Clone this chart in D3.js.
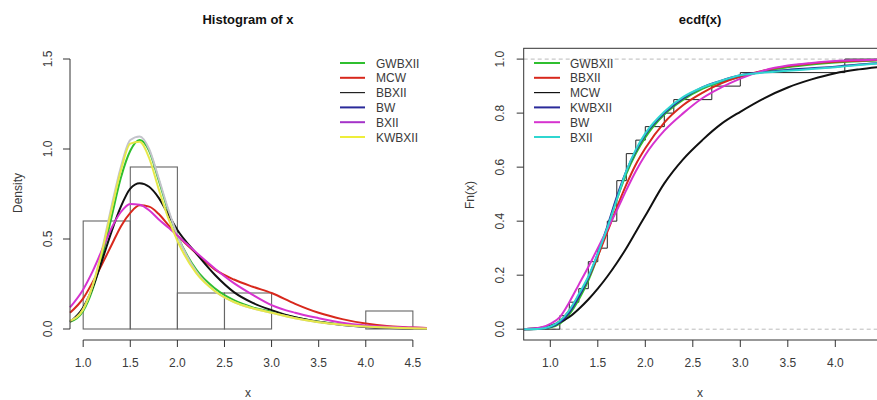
<!DOCTYPE html>
<html>
<head>
<meta charset="utf-8">
<script src="https://cdn.jsdelivr.net/npm/d3@7"></script>
<style>
	body { margin: 0; background: #fff; }
	svg { display: block; }
	text { font-family: "Liberation Sans", Arial, sans-serif; fill: #3a3a3a; }
</style>
</head>
<body>
<script>
// histogram of x (density scale)
const binEdges = [1.0, 1.5, 2.0, 2.5, 3.0, 3.5, 4.0, 4.5];
const binDensity = [0.6, 0.9, 0.2, 0.2, 0.0, 0.0, 0.1];

// fitted densities
const densX = [0.86, 1.0, 1.1, 1.2, 1.3, 1.4, 1.5, 1.6, 1.7, 1.8, 1.9, 2.0, 2.2, 2.4, 2.6, 2.8, 3.0, 3.25, 3.5, 3.75, 4.0, 4.25, 4.5, 4.65];
const densGWBXII = [0.04, 0.10, 0.22, 0.40, 0.62, 0.84, 0.99, 1.05, 0.99, 0.83, 0.66, 0.52, 0.33, 0.225, 0.16, 0.12, 0.095, 0.065, 0.04, 0.025, 0.015, 0.009, 0.005, 0.004];
const densMCW = [0.09, 0.17, 0.26, 0.36, 0.465, 0.57, 0.645, 0.687, 0.68, 0.64, 0.58, 0.52, 0.42, 0.33, 0.275, 0.235, 0.2, 0.14, 0.09, 0.055, 0.03, 0.015, 0.008, 0.005];
const densBBXII = [0.04, 0.12, 0.23, 0.38, 0.54, 0.68, 0.78, 0.81, 0.79, 0.73, 0.64, 0.55, 0.42, 0.30, 0.205, 0.145, 0.105, 0.065, 0.04, 0.022, 0.011, 0.006, 0.003, 0.002];
const densBW = [0.045, 0.11, 0.24, 0.44, 0.68, 0.90, 1.05, 1.07, 1.0, 0.84, 0.67, 0.52, 0.32, 0.21, 0.15, 0.115, 0.09, 0.06, 0.038, 0.024, 0.014, 0.008, 0.004, 0.003];
const densBXII = [0.12, 0.22, 0.32, 0.44, 0.56, 0.65, 0.695, 0.69, 0.66, 0.61, 0.565, 0.52, 0.425, 0.335, 0.255, 0.19, 0.133, 0.09, 0.06, 0.035, 0.02, 0.012, 0.008, 0.006];
const densKWBXII = [0.045, 0.11, 0.24, 0.43, 0.66, 0.88, 1.03, 1.04, 0.95, 0.78, 0.62, 0.49, 0.31, 0.21, 0.15, 0.115, 0.09, 0.06, 0.038, 0.024, 0.014, 0.008, 0.004, 0.003];

// sample behind ecdf(x)
const sample = [1.1, 1.2, 1.3, 1.4, 1.4, 1.5, 1.6, 1.6, 1.7, 1.7, 1.7, 1.8, 1.8, 1.9, 2.0, 2.2, 2.3, 2.7, 3.0, 4.1];

// fitted cdfs
const cdfX = [0.72, 0.9, 1.0, 1.1, 1.2, 1.3, 1.4, 1.5, 1.6, 1.7, 1.8, 1.9, 2.0, 2.2, 2.4, 2.6, 2.8, 3.0, 3.25, 3.5, 3.75, 4.0, 4.25, 4.5];
const cdfGWBXII = [0, 0.002, 0.006, 0.02, 0.055, 0.11, 0.18, 0.27, 0.375, 0.48, 0.575, 0.65, 0.71, 0.795, 0.85, 0.89, 0.915, 0.935, 0.955, 0.97, 0.98, 0.987, 0.992, 0.995];
const cdfBBXII = [0, 0.003, 0.01, 0.03, 0.07, 0.125, 0.19, 0.27, 0.36, 0.45, 0.535, 0.61, 0.67, 0.765, 0.83, 0.875, 0.91, 0.935, 0.958, 0.974, 0.984, 0.99, 0.994, 0.997];
const cdfMCW = [0, 0.005, 0.013, 0.025, 0.045, 0.075, 0.11, 0.15, 0.195, 0.245, 0.30, 0.36, 0.42, 0.54, 0.63, 0.70, 0.76, 0.805, 0.855, 0.895, 0.925, 0.948, 0.962, 0.972];
const cdfKWBXII = [0, 0.002, 0.008, 0.025, 0.062, 0.12, 0.19, 0.28, 0.38, 0.49, 0.585, 0.66, 0.72, 0.80, 0.855, 0.895, 0.92, 0.94, 0.952, 0.96, 0.966, 0.972, 0.98, 0.986];
const cdfBW = [0, 0.006, 0.02, 0.045, 0.10, 0.165, 0.23, 0.30, 0.37, 0.44, 0.515, 0.585, 0.645, 0.735, 0.80, 0.855, 0.895, 0.928, 0.958, 0.976, 0.986, 0.993, 0.996, 0.998];
const cdfBXII = [0, 0.002, 0.01, 0.03, 0.07, 0.13, 0.195, 0.28, 0.375, 0.48, 0.585, 0.665, 0.725, 0.805, 0.86, 0.895, 0.92, 0.94, 0.95, 0.957, 0.963, 0.97, 0.978, 0.985];

const densTicksX = [1.0, 1.5, 2.0, 2.5, 3.0, 3.5, 4.0, 4.5];
const densTicksY = [0.0, 0.5, 1.0, 1.5];
const cdfTicksX = [1.0, 1.5, 2.0, 2.5, 3.0, 3.5, 4.0];
const cdfTicksY = [0.0, 0.2, 0.4, 0.6, 0.8, 1.0];

document.addEventListener('DOMContentLoaded', () => {
	let width = 877, height = 400;
	let svg = d3.select('body').append('svg')
		.attr('width', width)
		.attr('height', height);

	let fmt = d3.format('.1f');

	// ---------- left: histogram ----------
	let xL = d3.scaleLinear().domain([0.86, 4.65]).range([70, 427]);
	let yL = d3.scaleLinear().domain([0, 1.5]).range([329, 59]);

	let left = svg.append('g');

	left.append('text')
		.attr('x', 248).attr('y', 24)
		.attr('text-anchor', 'middle')
		.style('font-weight', 'bold').style('font-size', '13px').style('fill', '#111')
		.text('Histogram of x');

	let bins = binDensity.map((d, i) => ({ x0: binEdges[i], x1: binEdges[i + 1], d: d }));
	left.selectAll('rect.bar')
		.data(bins)
		.enter().append('rect')
		.attr('class', 'bar')
		.attr('x', d => xL(d.x0))
		.attr('width', d => xL(d.x1) - xL(d.x0))
		.attr('y', d => yL(d.d))
		.attr('height', d => yL(0) - yL(d.d))
		.style('fill', 'none')
		.style('stroke', '#666')
		.style('stroke-width', 1.1);

	let densSeries = [
		{ name: 'GWBXII', values: densGWBXII, color: '#2fbf2f', legend: '#2fbf2f' },
		{ name: 'MCW', values: densMCW, color: '#d8281c', legend: '#d8281c' },
		{ name: 'BBXII', values: densBBXII, color: '#111', legend: '#222' },
		{ name: 'BW', values: densBW, color: '#c4c4cc', legend: '#2a2a9a' },
		{ name: 'BXII', values: densBXII, color: '#d633cf', legend: '#a433c8' },
		{ name: 'KWBXII', values: densKWBXII, color: '#e6e84a', legend: '#eeee3a' }
	];

	let densLine = d3.line()
		.x(d => xL(d[0]))
		.y(d => yL(d[1]))
		.curve(d3.curveMonotoneX);

	left.selectAll('path.dens')
		.data(densSeries)
		.enter().append('path')
		.attr('class', 'dens')
		.attr('d', s => densLine(densX.map((x, i) => [x, s.values[i]])))
		.style('fill', 'none')
		.style('stroke', s => s.color)
		.style('stroke-width', 2);

	// axes, R style
	let axL = left.append('g').attr('transform', 'translate(0,340)');
	axL.append('line')
		.attr('x1', xL(1.0)).attr('x2', xL(4.5))
		.style('stroke', '#333');
	axL.selectAll('line.tk').data(densTicksX).enter().append('line')
		.attr('x1', d => xL(d)).attr('x2', d => xL(d))
		.attr('y1', 0).attr('y2', 7)
		.style('stroke', '#333');
	axL.selectAll('text').data(densTicksX).enter().append('text')
		.attr('x', d => xL(d)).attr('y', 27)
		.attr('text-anchor', 'middle')
		.style('font-size', '12px')
		.text(fmt);

	let ayL = left.append('g').attr('transform', 'translate(70,0)');
	ayL.append('line')
		.attr('y1', yL(0)).attr('y2', yL(1.5))
		.style('stroke', '#333');
	ayL.selectAll('line.tk').data(densTicksY).enter().append('line')
		.attr('y1', d => yL(d)).attr('y2', d => yL(d))
		.attr('x1', 0).attr('x2', -7)
		.style('stroke', '#333');
	ayL.selectAll('text').data(densTicksY).enter().append('text')
		.attr('transform', d => `translate(-18,${yL(d)}) rotate(-90)`)
		.attr('text-anchor', 'middle')
		.style('font-size', '12px')
		.text(fmt);

	left.append('text')
		.attr('x', 248).attr('y', 397)
		.attr('text-anchor', 'middle')
		.style('font-size', '12px')
		.text('x');
	left.append('text')
		.attr('transform', 'translate(22,193) rotate(-90)')
		.attr('text-anchor', 'middle')
		.style('font-size', '12px')
		.text('Density');

	let legL = left.append('g').attr('transform', 'translate(340,63)');
	let legRowL = legL.selectAll('g').data(densSeries).enter().append('g')
		.attr('transform', (d, i) => `translate(0,${i * 14.8})`);
	legRowL.append('line')
		.attr('x1', 0).attr('x2', 25)
		.style('stroke', d => d.legend)
		.style('stroke-width', d => d.name === 'BBXII' ? 1.2 : 2);
	legRowL.append('text')
		.attr('x', 36).attr('y', 4.5)
		.style('font-size', '12px')
		.text(d => d.name);

	// ---------- right: ecdf ----------
	let xR = d3.scaleLinear().domain([0.72, 4.46]).range([523.7, 879]);
	let yR = d3.scaleLinear().domain([-0.04, 1.04]).range([340, 48.3]);

	let right = svg.append('g');

	right.append('clipPath').attr('id', 'clipR')
		.append('rect')
		.attr('x', xR(0.72)).attr('y', yR(1.04))
		.attr('width', xR(4.46) - xR(0.72))
		.attr('height', yR(-0.04) - yR(1.04));

	right.append('text')
		.attr('x', 700).attr('y', 24)
		.attr('text-anchor', 'middle')
		.style('font-weight', 'bold').style('font-size', '13px').style('fill', '#111')
		.text('ecdf(x)');

	let plotR = right.append('g').attr('clip-path', 'url(#clipR)');

	// dashed guides at 0 and 1
	plotR.selectAll('line.guide').data([0, 1]).enter().append('line')
		.attr('x1', xR(0.72)).attr('x2', xR(4.46))
		.attr('y1', d => yR(d)).attr('y2', d => yR(d))
		.style('stroke', '#bbb')
		.style('stroke-dasharray', '4,3');

	// empirical cdf as a step line
	let sorted = sample.slice().sort(d3.ascending);
	let steps = [[0.72, 0]].concat(sorted.map((x, i) => [x, (i + 1) / sorted.length]));
	steps.push([4.46, 1]);
	let stepLine = d3.line()
		.x(d => xR(d[0]))
		.y(d => yR(d[1]))
		.curve(d3.curveStepAfter);
	plotR.append('path')
		.attr('d', stepLine(steps))
		.style('fill', 'none')
		.style('stroke', '#222')
		.style('stroke-width', 1);

	let cdfSeries = [
		{ name: 'GWBXII', values: cdfGWBXII, color: '#2fbf2f' },
		{ name: 'BBXII', values: cdfBBXII, color: '#d8281c' },
		{ name: 'MCW', values: cdfMCW, color: '#111' },
		{ name: 'KWBXII', values: cdfKWBXII, color: '#2a2a9a' },
		{ name: 'BW', values: cdfBW, color: '#d633cf' },
		{ name: 'BXII', values: cdfBXII, color: '#2fd6d0' }
	];

	let cdfLine = d3.line()
		.x(d => xR(d[0]))
		.y(d => yR(d[1]))
		.curve(d3.curveMonotoneX);

	plotR.selectAll('path.cdf')
		.data(cdfSeries)
		.enter().append('path')
		.attr('class', 'cdf')
		.attr('d', s => cdfLine(cdfX.map((x, i) => [x, s.values[i]])))
		.style('fill', 'none')
		.style('stroke', s => s.color)
		.style('stroke-width', 2);

	// box
	right.append('rect')
		.attr('x', xR(0.72)).attr('y', yR(1.04))
		.attr('width', xR(4.46) - xR(0.72))
		.attr('height', yR(-0.04) - yR(1.04))
		.style('fill', 'none')
		.style('stroke', '#333');

	let axR = right.append('g').attr('transform', 'translate(0,340)');
	axR.selectAll('line').data(cdfTicksX).enter().append('line')
		.attr('x1', d => xR(d)).attr('x2', d => xR(d))
		.attr('y1', 0).attr('y2', 7)
		.style('stroke', '#333');
	axR.selectAll('text').data(cdfTicksX).enter().append('text')
		.attr('x', d => xR(d)).attr('y', 27)
		.attr('text-anchor', 'middle')
		.style('font-size', '12px')
		.text(fmt);

	let ayR = right.append('g').attr('transform', `translate(${xR(0.72)},0)`);
	ayR.selectAll('line').data(cdfTicksY).enter().append('line')
		.attr('y1', d => yR(d)).attr('y2', d => yR(d))
		.attr('x1', 0).attr('x2', -7)
		.style('stroke', '#333');
	ayR.selectAll('text').data(cdfTicksY).enter().append('text')
		.attr('transform', d => `translate(-20,${yR(d)}) rotate(-90)`)
		.attr('text-anchor', 'middle')
		.style('font-size', '12px')
		.text(fmt);

	right.append('text')
		.attr('x', 700).attr('y', 397)
		.attr('text-anchor', 'middle')
		.style('font-size', '12px')
		.text('x');
	right.append('text')
		.attr('transform', 'translate(474,195) rotate(-90)')
		.attr('text-anchor', 'middle')
		.style('font-size', '12px')
		.text('Fn(x)');

	let legR = right.append('g').attr('transform', 'translate(534,63)');
	let legRowR = legR.selectAll('g').data(cdfSeries).enter().append('g')
		.attr('transform', (d, i) => `translate(0,${i * 14.8})`);
	legRowR.append('line')
		.attr('x1', 0).attr('x2', 26)
		.style('stroke', d => d.color)
		.style('stroke-width', d => d.name === 'MCW' ? 1.2 : 2);
	legRowR.append('text')
		.attr('x', 36).attr('y', 4.5)
		.style('font-size', '12px')
		.text(d => d.name);
});
</script>
</body>
</html>
